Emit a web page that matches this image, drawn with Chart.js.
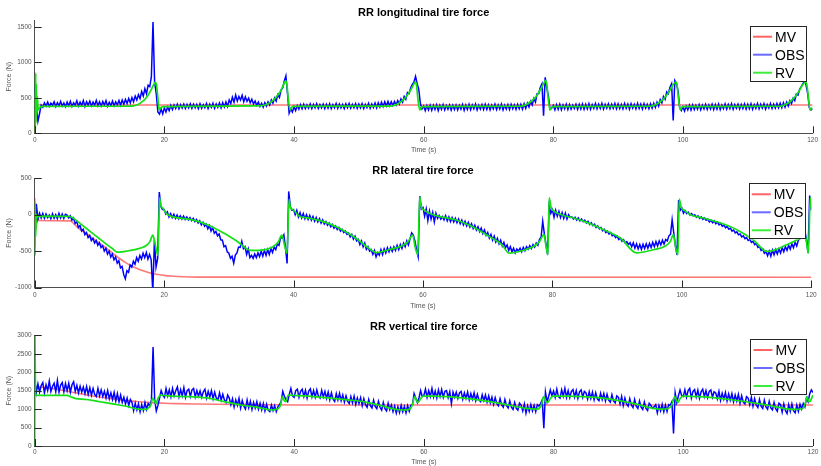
<!DOCTYPE html>
<html>
<head>
<meta charset="utf-8">
<script src="https://cdn.jsdelivr.net/npm/chart.js@4.4.0/dist/chart.umd.min.js"></script>
<style>
  html, body { margin: 0; padding: 0; background: #fff; }
  #wrap { position: relative; width: 821px; height: 466px; overflow: hidden; }
  #wrap canvas { position: absolute; left: 0; }
</style>
</head>
<body>
<div id="wrap">
  <canvas id="lon" width="821" height="160" style="top:0px"></canvas>
  <canvas id="lat" width="821" height="150" style="top:160px"></canvas>
  <canvas id="vert" width="821" height="156" style="top:310px"></canvas>
</div>
<script>
// ---- time axis ----
const TIME_TICKS = [0, 20, 40, 60, 80, 100, 120];
const OBS_STEP = 0.25; // observer samples every 0.25 s

// ---- RR longitudinal tire force (N) ----
const LON_TICKS = [0, 500, 1000, 1500];
const lonMvT = [0, 0.3, 120];
const lonMvF = [0, 400, 400];
const lonRvT = [
  0, 0.05, 0.1, 0.15, 0.2, 0.25, 0.3, 0.4, 0.55, 0.8, 1.2,
  10, 15, 15.5, 16, 16.5, 17, 17.5, 18, 18.3, 18.6, 18.8, 19.0, 19.2, 19.4, 19.8,
  30, 35, 35.5, 36, 36.5, 37, 37.5, 38, 38.4, 38.7, 38.9, 39.1, 39.4, 39.6, 40,
  55, 55.5, 56, 56.5, 57, 57.5, 58, 58.4, 58.7, 58.9, 59.1, 59.4, 59.6, 60,
  75, 75.5, 76, 76.5, 77, 77.5, 78, 78.5, 78.8, 79.0, 79.2, 79.5, 79.7, 80,
  95, 95.5, 96, 96.5, 97, 97.5, 98, 98.5, 98.9, 99.1, 99.3, 99.6, 99.8, 100,
  115, 115.5, 116, 116.5, 117, 117.5, 118, 118.5, 118.9, 119.1, 119.3, 119.6, 119.8, 120
];
const lonRvF = [
  0, 820, 60, 850, 150, 700, 250, 520, 330, 365, 380,
  382, 385, 392, 410, 440, 480, 540, 620, 680, 720, 680, 500, 330, 360, 378,
  385, 390, 400, 418, 445, 485, 540, 610, 690, 740, 690, 500, 330, 365, 380,
  385, 398, 415, 445, 485, 540, 610, 680, 722, 680, 500, 330, 365, 378,
  382, 395, 415, 445, 485, 540, 615, 700, 745, 690, 500, 330, 365, 378,
  382, 395, 415, 445, 485, 540, 610, 690, 722, 680, 500, 330, 365, 378,
  382, 395, 415, 445, 485, 540, 610, 690, 722, 690, 560, 330, 350, 360
];
const lonObs = [
  650, 380, 170, 280, 400, 370, 430, 385, 440, 380, 425, 395, 445, 378, 432, 390, 450, 385, 428, 375,
  440, 388, 452, 380, 430, 395, 458, 385, 440, 392, 462, 380, 445, 398, 455, 386, 440, 395, 465, 390,
  445, 385, 450, 398, 460, 382, 438, 392, 455, 388, 445, 400, 462, 395, 470, 410, 478, 420, 490, 430,
  505, 445, 525, 470, 545, 490, 590, 525, 630, 560, 680, 660, 800, 1570, 720, 560, 300, 270, 345, 275,
  360, 300, 370, 320, 395, 335, 400, 350, 410, 345, 405, 355, 412, 350, 408, 360, 415, 352, 410, 360,
  408, 350, 418, 355, 405, 362, 420, 350, 412, 365, 425, 355, 415, 368, 428, 360, 435, 372, 445, 380,
  470, 420, 510, 440, 540, 455, 520, 470, 535, 445, 515, 450, 495, 430, 480, 415, 455, 395, 440, 380,
  425, 370, 432, 385, 445, 400, 470, 425, 500, 455, 545, 505, 610, 640, 735, 810, 560, 285, 345, 300,
  375, 320, 392, 340, 405, 345, 410, 350, 402, 355, 415, 348, 408, 360, 418, 352, 405, 358, 412, 350,
  410, 355, 418, 348, 405, 360, 420, 352, 412, 358, 408, 350, 415, 362, 422, 355, 410, 360, 418, 352,
  412, 358, 420, 350, 408, 362, 425, 355, 415, 365, 428, 360, 432, 372, 440, 378, 445, 385, 450, 390,
  445, 392, 450, 400, 462, 415, 485, 440, 520, 480, 575, 560, 640, 690, 720, 805, 700, 620, 420, 345,
  385, 320, 392, 330, 398, 325, 395, 335, 402, 322, 396, 338, 405, 330, 392, 340, 400, 328, 395, 335,
  400, 330, 395, 342, 408, 325, 398, 338, 410, 332, 402, 345, 412, 330, 398, 340, 405, 335, 410, 338,
  402, 332, 398, 345, 410, 335, 400, 342, 412, 330, 398, 340, 405, 336, 410, 345, 402, 338, 408, 345,
  410, 340, 418, 352, 425, 370, 450, 400, 490, 440, 560, 560, 650, 700, 250, 790, 640, 520, 340, 355,
  395, 330, 405, 338, 410, 332, 402, 345, 412, 335, 405, 342, 398, 350, 410, 338, 408, 345, 415, 340,
  410, 345, 418, 340, 405, 352, 420, 345, 412, 350, 422, 342, 408, 355, 418, 348, 412, 352, 420, 346,
  415, 350, 408, 345, 420, 352, 412, 340, 418, 355, 410, 345, 422, 350, 414, 342, 418, 355, 410, 348,
  418, 355, 425, 365, 440, 385, 475, 430, 520, 480, 585, 560, 650, 700, 180, 745, 700, 600, 360, 320,
  372, 315, 385, 330, 398, 328, 402, 335, 395, 340, 405, 332, 398, 345, 408, 338, 402, 342, 410, 335,
  405, 340, 412, 335, 400, 348, 415, 342, 408, 350, 418, 338, 405, 352, 412, 345, 408, 350, 415, 342,
  410, 348, 418, 340, 405, 352, 420, 345, 412, 355, 418, 342, 408, 358, 420, 350, 412, 355, 422, 360,
  425, 362, 432, 370, 440, 385, 460, 420, 495, 460, 555, 540, 620, 660, 700, 745, 680, 560, 360, 330,
  345
];

// ---- RR lateral tire force (N) ----
const LAT_TICKS = [-1000, -500, 0, 500];
const latMvT = [0, 0.05, 0.1, 0.2, 0.4, 0.7, 5.5, 6, 6.5, 7,
  8, 9, 10, 11, 12, 13, 14, 15, 16, 17, 18, 19, 20, 21, 22, 24, 27, 120];
const latMvF = [230, -435, 100, -200, -60, -80, -85, -120, -165, -200,
  -260, -325, -390, -455, -525, -595, -655, -705, -745, -778, -805, -822, -833, -842, -848, -855, -858, -860];
const latRvT = [
  0, 0.05, 0.1, 0.15, 0.25, 0.4, 0.6,
  5.5, 6, 7, 8, 9, 10, 11, 12,
  12.8, 13.5, 14.5, 15.5, 16.5, 17.3, 17.8, 18.25, 18.6, 19.05,
  19.3, 19.5, 19.8, 20.3, 21,
  24, 26.7, 29.2, 31.3, 33.4, 35.4, 36.8, 37.6, 38.2, 38.6, 39.0,
  39.3, 39.5, 39.9, 40.9,
  42.4, 44.5, 47, 49.6, 51.6, 52.8, 54.7, 56.8, 57.7, 58.4, 58.8, 59.2,
  59.5, 59.7, 60.1, 60.9,
  62.5, 65, 67.6, 70.2, 72.2, 73.3, 75.3, 77.2, 78.0, 78.7, 79.0, 79.3,
  79.5, 79.8, 80.3, 81.7,
  83.3, 85.3, 87.9, 90.5, 93, 95.6, 97.5, 98.2, 98.7, 99.0, 99.4,
  99.6, 99.9, 100.4, 101.3,
  103.4, 106, 108.5, 111, 113.2, 116.2, 118.1, 119.0, 119.3, 119.55,
  119.85, 120
];
const latRvF = [
  180, -560, 120, -300, 0, -40, -20,
  -25, -50, -120, -190, -260, -330, -400, -465,
  -515, -510, -495, -480, -455, -420, -370, -280, -400, -560,
  230, 120, 90, 20, -20,
  -65, -138, -252, -367, -490, -482, -440, -380, -280, -420, -530,
  210, 100, 70, -20,
  -46, -92, -184, -321, -459, -520, -482, -427, -370, -280, -450, -550,
  250, 115, 70, 23,
  -23, -69, -161, -298, -413, -528, -495, -430, -370, -275, -430, -551,
  230, 100, 46, -10,
  -46, -106, -206, -321, -525, -482, -430, -370, -275, -430, -551,
  216, 100, 60, 0,
  -46, -115, -206, -344, -505, -413, -330, -275, -400, -528,
  234, 100
];
const latObs = [
  -300, 150, -60, 20, -45, 15, -50, 10, -40, -5, -55, 12, -48, 0, -52, 18, -45, 8, -50, 5,
  -5, -45, -15, -75, -45, -120, -95, -175, -150, -225, -200, -275, -245, -315, -285, -355, -325, -390, -355, -420,
  -385, -450, -425, -500, -460, -540, -500, -580, -540, -620, -580, -665, -630, -730, -710, -820, -880, -770, -790, -690,
  -720, -640, -680, -590, -640, -560, -610, -530, -590, -520, -610, -545, -620, -1060, -350, -720, -600, 310, 110, 70,
  70, 10, 40, -30, 15, -40, 5, -50, -5, -55, -15, -60, -20, -65, -30, -70, -40, -80, -50, -95,
  -65, -115, -85, -140, -105, -160, -130, -195, -150, -225, -175, -255, -230, -290, -265, -345, -350, -440, -425, -510,
  -530, -600, -570, -665, -555, -525, -445, -450, -365, -465, -440, -545, -470, -590, -560, -600, -540, -590, -525, -575,
  -500, -570, -490, -560, -480, -545, -465, -520, -445, -480, -400, -420, -310, -320, -275, -450, -670, 320, 110, 60,
  70, 0, 60, -30, 30, -45, 15, -55, 0, -65, -10, -75, -25, -90, -40, -100, -55, -115, -70, -130,
  -95, -145, -115, -165, -135, -185, -155, -205, -175, -225, -200, -245, -225, -270, -250, -305, -270, -335, -295, -360,
  -340, -410, -360, -440, -390, -475, -440, -500, -480, -545, -490, -580, -520, -555, -480, -550, -470, -525, -455, -510,
  -450, -505, -440, -490, -420, -480, -410, -465, -390, -440, -360, -415, -330, -250, -280, -360, -480, -575, 255, 80,
  100, -20, 80, -80, 50, -60, 30, -100, 20, -50, -10, -60, -25, -70, -15, -85, -30, -95, -40, -100,
  -50, -110, -60, -125, -75, -140, -90, -155, -105, -170, -125, -190, -145, -210, -165, -230, -185, -260, -210, -285,
  -245, -320, -270, -350, -295, -375, -325, -400, -350, -430, -380, -455, -415, -490, -440, -510, -460, -525, -470, -500,
  -460, -510, -450, -495, -440, -475, -425, -465, -410, -445, -390, -420, -340, -310, -90, -260, -400, -545, 120, 20,
  70, -35, 60, -20, 45, -40, 30, -50, 20, -60, 0, -40, -30, -60, -35, -75, -45, -85, -60, -95,
  -75, -115, -90, -135, -110, -150, -130, -175, -155, -195, -175, -220, -200, -245, -225, -265, -245, -290, -275, -315,
  -295, -340, -320, -365, -345, -390, -370, -410, -385, -440, -385, -460, -400, -470, -410, -475, -405, -465, -400, -460,
  -395, -450, -380, -440, -370, -430, -360, -415, -350, -405, -340, -360, -290, -270, -70, -250, -420, -551, 200, 60,
  90, 20, 55, 15, 35, -5, 15, -15, 0, -35, -15, -50, -30, -65, -45, -75, -60, -100, -75, -110,
  -85, -125, -100, -140, -120, -160, -140, -180, -160, -200, -185, -225, -210, -250, -235, -275, -265, -305, -290, -330,
  -315, -355, -340, -380, -365, -410, -395, -450, -435, -490, -470, -530, -505, -565, -500, -570, -485, -550, -480, -540,
  -470, -525, -455, -510, -440, -490, -420, -475, -400, -455, -380, -430, -350, -330, -260, -220, -210, -350, -520, 262,
  60
];

// ---- RR vertical tire force (N) ----
const VERT_TICKS = [0, 500, 1000, 1500, 2000, 2500, 3000];
const vertMvT = [0, 0.5, 1, 2, 3, 4, 5, 6, 7, 8, 9, 10, 11, 12, 13, 14, 15, 16,
  18, 20, 22, 25, 28, 32, 36, 40, 120];
const vertMvF = [1560, 1600, 1600, 1578, 1550, 1518, 1485, 1450, 1418, 1386, 1356, 1328, 1303, 1280, 1255, 1235, 1215, 1200,
  1175, 1158, 1148, 1138, 1130, 1124, 1118, 1113, 1110];
const vertRvT = [
  0, 0.04, 0.12, 0.3,
  5, 5.6, 6.2, 8, 10, 12, 14.4, 16,
  17.2, 17.6, 17.9, 18.2, 18.45, 18.7, 19.0, 19.4, 20.5,
  24, 27, 29.2, 31.8, 34.4, 36.6,
  37.4, 37.9, 38.2, 38.45, 38.7, 39.1, 40,
  43, 46, 49, 51.2, 53.5, 55.5, 56.8,
  57.8, 58.2, 58.6, 58.9, 59.1, 59.5, 59.9,
  61.4, 66.6, 71.7, 75.8,
  77.5, 78.1, 78.5, 78.8, 79.1, 79.5, 79.9,
  82, 87, 92.3, 96.4,
  97.6, 98.2, 98.7, 99.0, 99.2, 99.5, 99.9,
  102.6, 107.7, 112.9, 117,
  118.3, 118.8, 119.1, 119.3, 119.5, 119.8, 120
];
const vertRvF = [
  0, 3000, 1400, 1370,
  1370, 1330, 1292, 1260, 1200, 1140, 1066, 1000,
  995, 1040, 1110, 1300, 1220, 1150, 1290, 1380, 1360,
  1337, 1292, 1202, 1111, 1048, 976,
  1000, 1100, 1337, 1240, 1202, 1382, 1370,
  1340, 1292, 1240, 1184, 1090, 1000, 975,
  1000, 1100, 1336, 1220, 1183, 1280, 1354,
  1354, 1291, 1156, 1020,
  1000, 1100, 1336, 1220, 1183, 1280, 1354,
  1354, 1310, 1156, 1002,
  1010, 1100, 1336, 1220, 1183, 1280, 1354,
  1336, 1246, 1111, 993,
  1002, 1150, 1336, 1220, 1200, 1300, 1382
];
const vertObs = [
  1850, 1450, 1680, 1460, 1640, 1720, 1440, 1660, 1500, 1760, 1480, 1620, 1700, 1470, 1780, 1460, 1650, 1720, 1470, 1690,
  1500, 1700, 1460, 1660, 1740, 1480, 1640, 1440, 1620, 1460, 1600, 1420, 1610, 1400, 1580, 1380, 1560, 1400, 1340, 1560,
  1360, 1520, 1340, 1480, 1300, 1500, 1280, 1440, 1260, 1450, 1220, 1420, 1200, 1380, 1180, 1320, 1140, 1300, 1100, 1260,
  1180, 960, 1160, 980, 1140, 930, 1120, 960, 1180, 990, 1150, 1080, 1250, 2680, 1250, 950, 1100, 1300, 1500, 1380,
  1320, 1560, 1360, 1520, 1330, 1560, 1360, 1500, 1600, 1340, 1530, 1360, 1580, 1320, 1500, 1540, 1340, 1520, 1560, 1330,
  1500, 1350, 1490, 1320, 1470, 1540, 1300, 1480, 1330, 1500, 1280, 1460, 1300, 1250, 1440, 1240, 1400, 1250, 1180, 1380,
  1300, 1120, 1280, 1060, 1250, 1100, 1290, 1030, 1230, 1080, 1000, 1250, 1040, 1210, 990, 1180, 1030, 1200, 1000, 1160,
  980, 1150, 950, 1130, 970, 930, 1110, 960, 1090, 930, 1070, 1120, 1200, 1480, 1350, 1250, 1200, 1400, 1560, 1360,
  1320, 1500, 1540, 1320, 1480, 1540, 1340, 1510, 1300, 1490, 1550, 1330, 1500, 1320, 1520, 1350, 1300, 1510, 1330, 1480,
  1290, 1460, 1250, 1440, 1270, 1210, 1420, 1250, 1430, 1230, 1380, 1190, 1360, 1210, 1150, 1340, 1170, 1350, 1130, 1300,
  1150, 1310, 1090, 1280, 1120, 1050, 1260, 1090, 1030, 1240, 1070, 1010, 1210, 1050, 970, 1180, 1010, 950, 1160, 990,
  1110, 930, 1080, 890, 1060, 910, 1100, 930, 1070, 900, 1090, 940, 1100, 1120, 1420, 1300, 1180, 1300, 1500, 1340,
  1370, 1540, 1320, 1500, 1340, 1560, 1330, 1490, 1300, 1520, 1340, 1530, 1320, 1480, 1500, 1310, 1470, 1150, 1460, 1320,
  1460, 1290, 1440, 1480, 1270, 1440, 1290, 1460, 1250, 1420, 1270, 1440, 1230, 1400, 1250, 1200, 1390, 1230, 1380, 1190,
  1360, 1170, 1320, 1130, 1310, 1150, 1090, 1280, 1110, 1050, 1260, 1090, 1030, 1220, 1050, 990, 1180, 1020, 970, 1160,
  1110, 950, 1140, 890, 1090, 940, 1120, 950, 1100, 930, 1120, 1080, 1150, 1250, 480, 1460, 1200, 1350, 1520, 1360,
  1490, 1320, 1540, 1340, 1300, 1520, 1350, 1560, 1320, 1500, 1310, 1480, 1530, 1330, 1500, 1290, 1470, 1520, 1320, 1480,
  1440, 1270, 1470, 1290, 1460, 1250, 1440, 1280, 1230, 1430, 1260, 1420, 1220, 1400, 1240, 1190, 1390, 1220, 1170, 1360,
  1320, 1140, 1340, 1100, 1300, 1140, 1080, 1280, 1110, 1040, 1260, 1080, 1020, 1220, 1050, 990, 1190, 1020, 960, 1160,
  1100, 1020, 1060, 1120, 900, 1100, 950, 1130, 930, 1110, 940, 1120, 1100, 1200, 340, 1440, 1180, 1360, 1520, 1370,
  1340, 1520, 1320, 1500, 1560, 1300, 1480, 1530, 1330, 1510, 1290, 1470, 1540, 1340, 1500, 1310, 1480, 1520, 1320, 1470,
  1440, 1280, 1480, 1240, 1430, 1270, 1450, 1220, 1410, 1240, 1420, 1200, 1380, 1220, 1400, 1160, 1360, 1190, 1140, 1340,
  1300, 1120, 1320, 1080, 1280, 1110, 1040, 1260, 1080, 1020, 1240, 1060, 1000, 1210, 1030, 980, 1180, 1010, 940, 1160,
  1120, 920, 1140, 960, 880, 1120, 940, 1140, 960, 900, 1110, 940, 1130, 1000, 1150, 1060, 1300, 1200, 1420, 1520,
  1450
];

// ---- drawing ----
const FONT = '"Liberation Sans", Arial, Helvetica, sans-serif';

function points(ts, vs) {
  return vs.map((v, i) => ({ x: ts[i], y: v }));
}
function obsPoints(vs) {
  return vs.map((v, i) => ({ x: i * OBS_STEP, y: v }));
}

// MATLAB-style tick marks pointing into the axes box
const innerTicks = {
  id: 'innerTicks',
  afterDatasetsDraw(chart) {
    const { ctx, chartArea: a, scales: { x, y } } = chart;
    ctx.save();
    ctx.strokeStyle = '#262626';
    ctx.lineWidth = 1;
    ctx.beginPath();
    x.ticks.forEach(t => {
      const px = Math.round(x.getPixelForValue(t.value)) + 0.5;
      ctx.moveTo(px, a.bottom);
      ctx.lineTo(px, a.bottom - 7);
    });
    y.ticks.forEach(t => {
      const py = Math.round(y.getPixelForValue(t.value)) + 0.5;
      ctx.moveTo(a.left, py);
      ctx.lineTo(a.left + 7, py);
    });
    ctx.stroke();
    ctx.restore();
  }
};

// bold heading centred over the plotting box
const boxTitle = {
  id: 'boxTitle',
  afterDraw(chart, args, opts) {
    const { ctx, chartArea: a } = chart;
    ctx.save();
    ctx.font = 'bold 11px ' + FONT;
    ctx.fillStyle = '#000';
    ctx.textAlign = 'center';
    ctx.textBaseline = 'middle';
    ctx.fillText(opts.text, (a.left + a.right) / 2, a.top - opts.gap);
    ctx.restore();
  }
};

// framed legend in the upper right corner of the plotting box
const boxLegend = {
  id: 'boxLegend',
  afterDraw(chart, args, opts) {
    const { ctx, chartArea: a } = chart;
    const w = 57, h = 56;
    const x0 = a.right - 5.5 - w;
    const y0 = a.top + opts.offset;
    ctx.save();
    ctx.fillStyle = '#fff';
    ctx.fillRect(x0, y0, w, h);
    ctx.strokeStyle = '#262626';
    ctx.lineWidth = 1;
    ctx.strokeRect(Math.round(x0) + 0.5, Math.round(y0) + 0.5, w - 1, h - 1);
    ctx.font = '14px ' + FONT;
    ctx.textBaseline = 'middle';
    ctx.textAlign = 'left';
    chart.data.datasets.forEach((ds, i) => {
      const cy = y0 + 11 + i * 18;
      ctx.strokeStyle = ds.legendColor;
      ctx.lineWidth = 2;
      ctx.beginPath();
      ctx.moveTo(x0 + 3, cy);
      ctx.lineTo(x0 + 22, cy);
      ctx.stroke();
      ctx.fillStyle = '#000';
      ctx.fillText(ds.label, x0 + 25, cy + 1);
    });
    ctx.restore();
  }
};

function makeChart(id, cfg) {
  const datasets = [
    { label: 'MV', data: points(cfg.mvT, cfg.mvF), borderColor: 'rgba(255,30,30,0.6)',
      legendColor: '#ff6464', borderWidth: 1.6, order: 3, cubicInterpolationMode: 'monotone' },
    { label: 'OBS', data: obsPoints(cfg.obs), borderColor: '#0000ff',
      legendColor: '#6a6aff', borderWidth: 1.5, order: 2 },
    { label: 'RV', data: points(cfg.rvT, cfg.rvF), borderColor: '#14e014',
      legendColor: '#3cee3c', borderWidth: 1.7, order: 1, cubicInterpolationMode: 'monotone' }
  ];
  datasets.forEach(d => { d.pointRadius = 0; d.fill = false; d.tension = 0; });

  const plain = v => String(v);

  return new Chart(document.getElementById(id), {
    type: 'line',
    data: { datasets },
    options: {
      responsive: false,
      animation: false,
      events: [],
      layout: { padding: { top: cfg.top, left: 0, right: 7.5, bottom: 0 } },
      plugins: {
        legend: { display: false },
        tooltip: { enabled: false },
        boxTitle: { text: cfg.title, gap: cfg.titleGap },
        boxLegend: { offset: cfg.legendOffset }
      },
      scales: {
        x: {
          type: 'linear', min: 0, max: 120,
          afterBuildTicks: s => { s.ticks = TIME_TICKS.map(v => ({ value: v })); },
          afterFit: s => { s.height = cfg.xAxisH; },
          grid: { display: false, drawTicks: false },
          border: { display: true, color: '#4d4d4d', width: 1 },
          ticks: { padding: cfg.xTickPad, color: '#555', maxRotation: 0, callback: plain,
                   font: { family: FONT, size: 6.5 } },
          title: { display: true, text: 'Time (s)', color: '#555',
                   font: { family: FONT, size: 7 }, padding: { top: 0, bottom: cfg.xTitlePad } }
        },
        y: {
          type: 'linear', min: cfg.yMin, max: cfg.yMax,
          afterBuildTicks: s => { s.ticks = cfg.yTicks.map(v => ({ value: v })); },
          afterFit: s => { s.width = 34.7; },
          grid: { display: false, drawTicks: false },
          border: { display: true, color: '#4d4d4d', width: 1 },
          ticks: { padding: 3, color: '#555', callback: plain, font: { family: FONT, size: 6.5 } },
          title: { display: true, text: 'Force (N)', color: '#555',
                   font: { family: FONT, size: 7 }, padding: { top: 5.3, bottom: 0 } }
        }
      }
    },
    plugins: [innerTicks, boxTitle, boxLegend]
  });
}

makeChart('lon', {
  title: 'RR longitudinal tire force', titleGap: 6.7, legendOffset: 5.7,
  top: 20, xAxisH: 26.7, xTickPad: 3, xTitlePad: 5.8,
  yMin: 0, yMax: 1600, yTicks: LON_TICKS,
  mvT: lonMvT, mvF: lonMvF, rvT: lonRvT, rvF: lonRvF, obs: lonObs
});
makeChart('lat', {
  title: 'RR lateral tire force', titleGap: 7.3, legendOffset: 5,
  top: 18.3, xAxisH: 22.5, xTickPad: 4.3, xTitlePad: 0,
  yMin: -1000, yMax: 500, yTicks: LAT_TICKS,
  mvT: latMvT, mvF: latMvF, rvT: latRvT, rvF: latRvF, obs: latObs
});
makeChart('vert', {
  title: 'RR vertical tire force', titleGap: 8.6, legendOffset: 3.7,
  top: 25.3, xAxisH: 20, xTickPad: 2.6, xTitlePad: 0,
  yMin: 0, yMax: 3000, yTicks: VERT_TICKS,
  mvT: vertMvT, mvF: vertMvF, rvT: vertRvT, rvF: vertRvF, obs: vertObs
});
</script>
</body>
</html>
